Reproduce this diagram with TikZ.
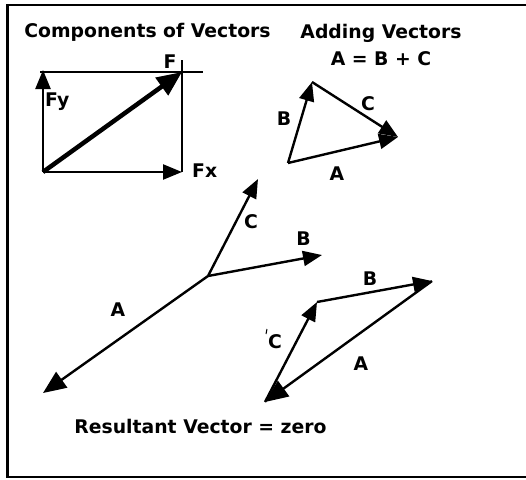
\documentclass[tikz,border=0pt]{standalone}
\usepackage{fontspec}
\setmainfont{DejaVu Sans}
\usetikzlibrary{arrows.meta}
\begin{document}
\begin{tikzpicture}[x=1pt,y=-1pt,
  vec/.style={line width=2.4pt,-{Triangle[length=19pt,width=15pt]}},
  bigvec/.style={line width=4.5pt,-{Triangle[length=25pt,width=21pt]}},
  longvec/.style={line width=2.4pt,-{Triangle[length=23pt,width=19pt]}},
  rectline/.style={line width=1.1pt},
  lbl/.style={font=\bfseries\fontsize{18.8}{22}\selectfont,inner sep=0pt,anchor=base}
]
\useasboundingbox (0,0) rectangle (526,479);
% frame
\draw[line width=2.4pt] (526,5) -- (7.5,5) -- (7.5,477) -- (526,477);

% titles
\node[lbl] (t1) at (147.5,37) {Components of Vectors};
\node[lbl] (t2) at (381,38) {Adding Vectors};
\node[lbl] (t3) at (381,65) {A = B + C};
\node[lbl] (t4) at (200.5,433) {Resultant Vector = zero};

% components of vectors
\coordinate (O) at (43,172);
\coordinate (Fxt) at (182,172);
\coordinate (Fyt) at (43,70);
\coordinate (Ft) at (182,72);
\coordinate (r1) at (40,72);
\coordinate (r2) at (203,72);
\coordinate (r3) at (182,60);
\draw[rectline] (r1) -- (r2);
\draw[rectline] (r3) -- (Fxt);
\draw[vec] (O) -- (Fxt);
\draw[vec] (O) -- (Fyt);
\draw[bigvec] (O) -- (Ft);
\node[lbl] (lF) at (170,68) {F};
\node[lbl,anchor=base west] (lFy) at (45,106) {Fy};
\node[lbl,anchor=base west] (lFx) at (192,177) {Fx};

% adding vectors
\coordinate (P1) at (288,163);
\coordinate (P2) at (312,82);
\coordinate (P3) at (398,137);
\draw[vec] (P1) -- (P2);
\draw[vec] (P2) -- (P3);
\draw[vec] (P1) -- (P3);
\node[lbl] (aB) at (284,125) {B};
\node[lbl] (aC) at (368,110) {C};
\node[lbl] (aA) at (337,180) {A};

% resultant: star
\coordinate (M) at (208,276);
\coordinate (MC) at (258,179);
\coordinate (MB) at (322,255);
\coordinate (MA) at (43,393);
\draw[vec] (M) -- (MC);
\draw[vec] (M) -- (MB);
\draw[longvec] (M) -- (MA);
\node[lbl] (mC) at (251,228) {C};
\node[lbl] (mB) at (303.5,245) {B};
\node[lbl] (mA) at (118,316) {A};

% resultant: closed triangle
\coordinate (Q1) at (265,402);
\coordinate (Q2) at (317,302);
\coordinate (Q3) at (432,281);
\draw[vec] (Q1) -- (Q2);
\draw[vec] (Q2) -- (Q3);
\draw[longvec] (Q3) -- (Q1);
\node[lbl] (qB) at (370,285) {B};
\node[lbl] (qC) at (275,348) {C};
\node[lbl] (qA) at (361,370) {A};
\coordinate (k1) at (267,329);
\coordinate (k2) at (266,334);
\draw[line width=1pt] (k1) -- (k2);
\end{tikzpicture}
\end{document}
